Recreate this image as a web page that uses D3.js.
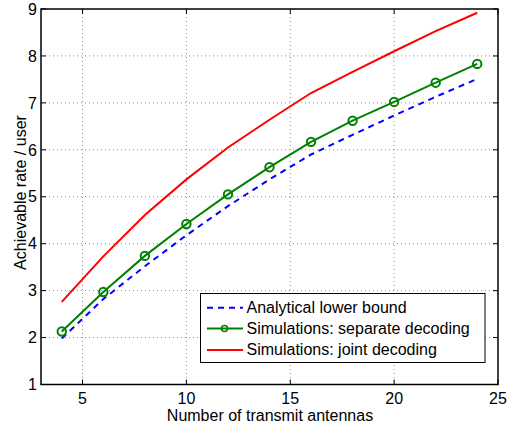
<!DOCTYPE html>
<html>
<head>
<meta charset="utf-8">
<script src="https://cdn.jsdelivr.net/npm/d3@7"></script>
<style>
	body { margin: 0; background: #ffffff; }
	svg { display: block; font-family: "Liberation Sans", Arial, sans-serif; }
	.grid line { stroke: #8c8c8c; stroke-width: 1; stroke-dasharray: 1,3; }
	.tick-label { font-size: 16px; fill: #000; }
</style>
</head>
<body>
<svg id="chart" width="508" height="427"></svg>
<script>
// number of transmit antennas
var antennas = [4, 6, 8, 10, 12, 14, 16, 18, 20, 22, 24];

// achievable rate per user
var lowerBound = [1.98, 2.82, 3.52, 4.18, 4.80, 5.37, 5.90, 6.32, 6.73, 7.13, 7.51];
var separateDecoding = [2.13, 2.97, 3.74, 4.42, 5.05, 5.63, 6.17, 6.62, 7.02, 7.43, 7.83];
var jointDecoding = [2.76, 3.73, 4.61, 5.37, 6.05, 6.64, 7.21, 7.66, 8.10, 8.53, 8.92];

var xTicks = [5, 10, 15, 20, 25];
var yTicks = [1, 2, 3, 4, 5, 6, 7, 8, 9];

var seriesNames = ["Analytical lower bound", "Simulations: separate decoding", "Simulations: joint decoding"];

(function()
{
	var svg = d3.select("#chart");

	var left = 41, right = 498, top = 9, bottom = 384.5;

	var x = d3.scaleLinear().domain([3, 25]).range([left, right]);
	var y = d3.scaleLinear().domain([1, 9]).range([bottom, top]);

	// dotted grid
	var grid = svg.append("g").classed("grid", true);
	grid.selectAll("line.gx").data(xTicks.filter(function(d)
	{
		return x(d) < right - 1;
	})).enter().append("line") //
	.attr("x1", function(d) { return x(d); }) //
	.attr("x2", function(d) { return x(d); }) //
	.attr("y1", top).attr("y2", bottom);

	grid.selectAll("line.gy").data(yTicks.filter(function(d)
	{
		return y(d) > top + 1 && y(d) < bottom - 1;
	})).enter().append("line") //
	.attr("y1", function(d) { return y(d); }) //
	.attr("y2", function(d) { return y(d); }) //
	.attr("x1", left).attr("x2", right);

	// lines
	var line = function(values)
	{
		return d3.line()
			.x(function(d, i) { return x(antennas[i]); })
			.y(function(d) { return y(d); })(values);
	};

	svg.append("path").attr("d", line(lowerBound)) //
	.attr("fill", "none").attr("stroke", "#0000ff").attr("stroke-width", 2) //
	.attr("stroke-dasharray", "6,5");

	svg.append("path").attr("d", line(jointDecoding)) //
	.attr("fill", "none").attr("stroke", "#ff0000").attr("stroke-width", 2);

	svg.append("path").attr("d", line(separateDecoding)) //
	.attr("fill", "none").attr("stroke", "#008000").attr("stroke-width", 2);

	svg.selectAll("circle.marker").data(separateDecoding).enter().append("circle") //
	.classed("marker", true) //
	.attr("cx", function(d, i) { return x(antennas[i]); }) //
	.attr("cy", function(d) { return y(d); }) //
	.attr("r", 4.2) //
	.attr("fill", "none").attr("stroke", "#008000").attr("stroke-width", 2);

	// axes box with inner ticks on all sides
	var axes = svg.append("g");
	axes.append("rect").attr("x", left).attr("y", top) //
	.attr("width", right - left).attr("height", bottom - top) //
	.attr("fill", "none").attr("stroke", "#000").attr("stroke-width", 1.5);

	var tl = 5;
	xTicks.forEach(function(t)
	{
		axes.append("line").attr("x1", x(t)).attr("x2", x(t)).attr("y1", bottom).attr("y2", bottom - tl).attr("stroke", "#000");
		axes.append("line").attr("x1", x(t)).attr("x2", x(t)).attr("y1", top).attr("y2", top + tl).attr("stroke", "#000");
		axes.append("text").classed("tick-label", true) //
		.attr("x", x(t)).attr("y", 403.5) //
		.attr("text-anchor", "middle").text(t);
	});
	yTicks.forEach(function(t)
	{
		axes.append("line").attr("x1", left).attr("x2", left + tl).attr("y1", y(t)).attr("y2", y(t)).attr("stroke", "#000");
		axes.append("line").attr("x1", right).attr("x2", right - tl).attr("y1", y(t)).attr("y2", y(t)).attr("stroke", "#000");
		axes.append("text").classed("tick-label", true) //
		.attr("x", 37).attr("y", y(t) + 5.7) //
		.attr("text-anchor", "end").text(t);
	});

	// axis titles
	svg.append("text").attr("x", 270).attr("y", 420.5) //
	.attr("text-anchor", "middle").attr("font-size", 16).text("Number of transmit antennas");

	svg.append("text").attr("transform", "translate(26,192.5) rotate(-90)") //
	.attr("text-anchor", "middle").attr("font-size", 16).text("Achievable rate / user");

	// legend
	var lg = svg.append("g");
	lg.append("rect").attr("x", 200.5).attr("y", 293.5).attr("width", 284.5).attr("height", 69) //
	.attr("fill", "#fff").attr("stroke", "#000").attr("stroke-width", 1);

	var rows = [307.7, 328.5, 350];
	var styles = [
		{ color: "#0000ff", dash: "6,5", marker: false },
		{ color: "#008000", dash: null, marker: true },
		{ color: "#ff0000", dash: null, marker: false }
	];
	seriesNames.forEach(function(name, i)
	{
		var s = styles[i];
		lg.append("line").attr("x1", 207).attr("x2", 243).attr("y1", rows[i]).attr("y2", rows[i]) //
		.attr("stroke", s.color).attr("stroke-width", 2).attr("stroke-dasharray", s.dash);
		if (s.marker)
		{
			lg.append("circle").attr("cx", 224.5).attr("cy", rows[i]).attr("r", 3) //
			.attr("fill", "none").attr("stroke", s.color).attr("stroke-width", 1.5);
		}
		lg.append("text").attr("x", 246.5).attr("y", rows[i] + 5.3) //
		.attr("font-size", 16).text(name);
	});
})();
</script>
</body>
</html>
